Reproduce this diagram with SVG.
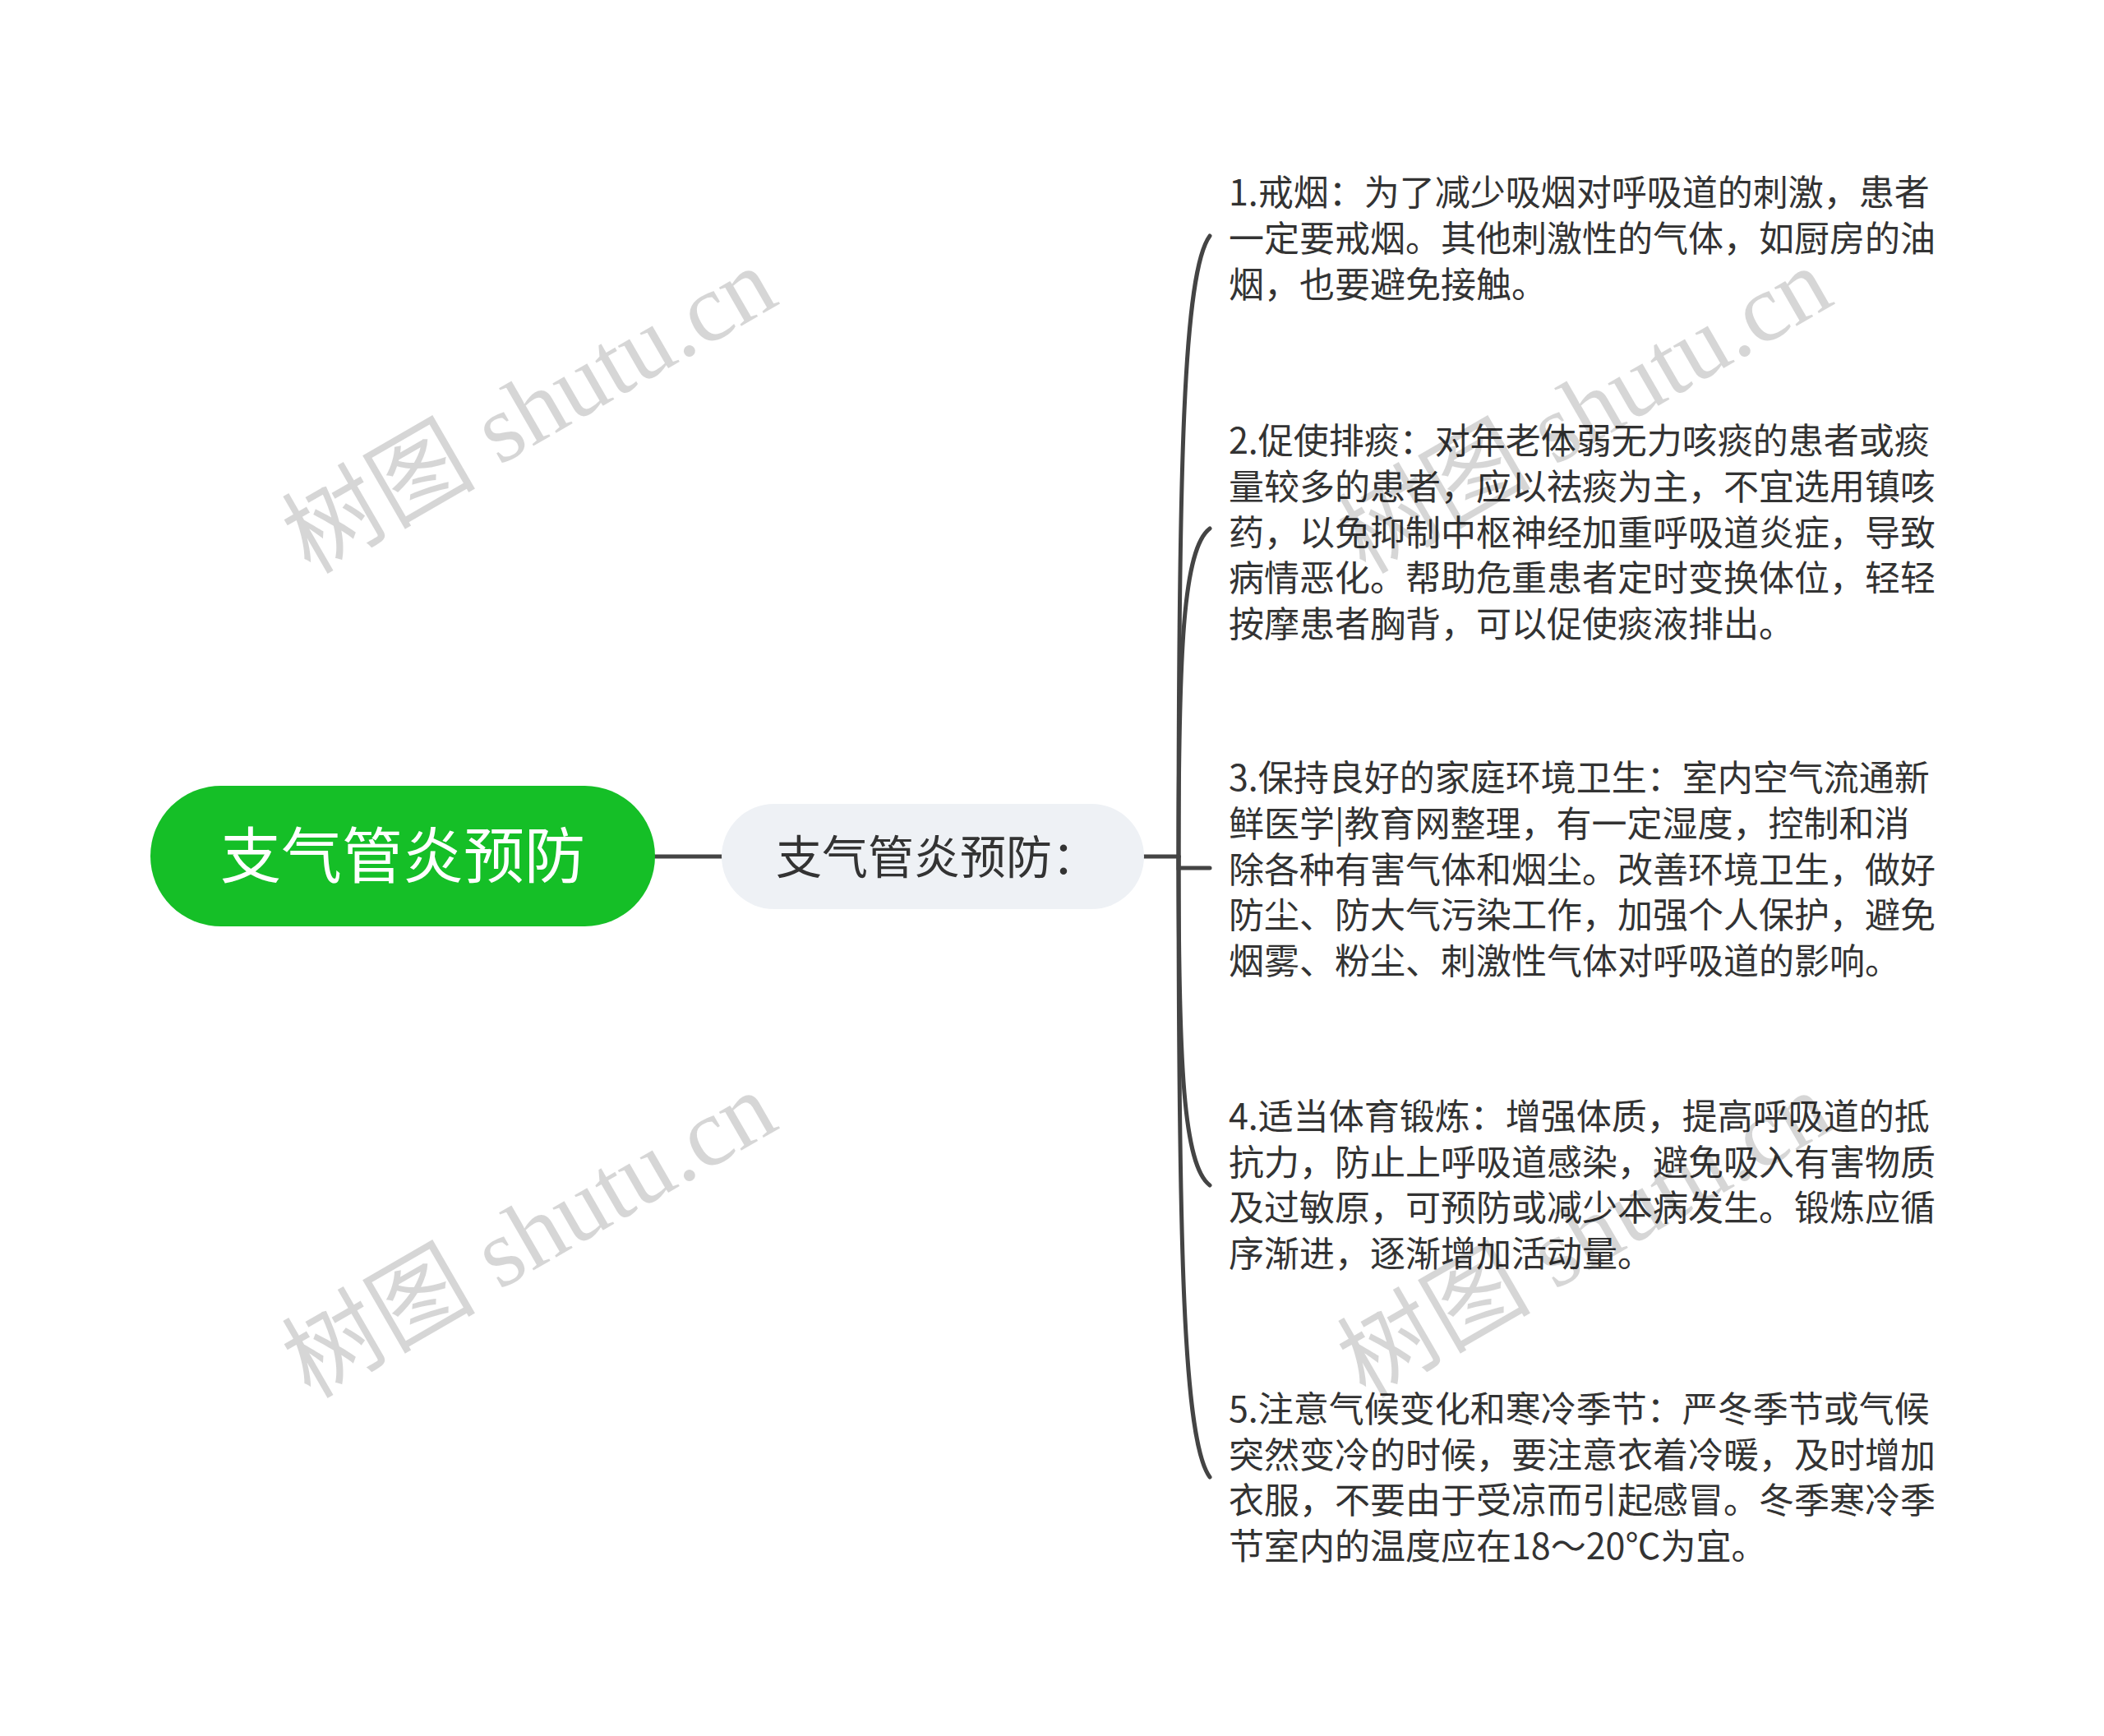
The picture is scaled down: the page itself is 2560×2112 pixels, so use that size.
<svg xmlns="http://www.w3.org/2000/svg" width="2560" height="2112" viewBox="0 0 2560 2112">
<style>
.leaf{font-family:"Noto Sans CJK SC","Noto Sans",sans-serif;font-size:43px;fill:#333333}
.conn{fill:none;stroke:#444444;stroke-width:5;stroke-linecap:round}
.wm{font-family:"Liberation Serif","Noto Sans CJK SC",serif;font-size:118px;fill:#000000;fill-opacity:0.16}
</style>
<rect width="2560" height="2112" fill="#ffffff"/>
<g id="connectors">
<path class="conn" d="M797,1042 H878" stroke-width="6"/>
<path class="conn" d="M1392,1042 H1434" stroke-width="6"/>
<path class="conn" d="M1434,1042 C1434,560 1440,330 1472,287"/>
<path class="conn" d="M1434,1042 C1434,787 1440,667 1472,643"/>
<path class="conn" d="M1434,1042 V1056 H1472"/>
<path class="conn" d="M1434,1042 C1434,1298 1440,1418 1472,1442"/>
<path class="conn" d="M1434,1042 C1434,1524 1440,1754 1472,1797"/>
</g>
<g id="root">
<rect x="183" y="956" width="614" height="171" rx="85.5" fill="#15bf27"/>
<text x="490" y="1068" text-anchor="middle" font-family="Noto Sans CJK SC, sans-serif" font-size="74" fill="#ffffff">支气管炎预防</text>
</g>
<g id="sub">
<rect x="878" y="978" width="514" height="128" rx="64" fill="#eef1f5"/>
<text x="944" y="1063" font-family="Noto Sans CJK SC, sans-serif" font-size="56" fill="#333333">支气管炎预防：</text>
</g>
<g id="leaf1">
<text class="leaf" x="1495" y="250"><tspan x="1495">1.戒烟：为了减少吸烟对呼吸道的刺激，患者</tspan><tspan x="1495" dy="56">一定要戒烟。其他刺激性的气体，如厨房的油</tspan><tspan x="1495" dy="56">烟，也要避免接触。</tspan></text>
</g>
<g id="leaf2">
<text class="leaf" x="1495" y="552"><tspan x="1495">2.促使排痰：对年老体弱无力咳痰的患者或痰</tspan><tspan x="1495" dy="55.8">量较多的患者，应以祛痰为主，不宜选用镇咳</tspan><tspan x="1495" dy="55.8">药，以免抑制中枢神经加重呼吸道炎症，导致</tspan><tspan x="1495" dy="55.8">病情恶化。帮助危重患者定时变换体位，轻轻</tspan><tspan x="1495" dy="55.8">按摩患者胸背，可以促使痰液排出。</tspan></text>
</g>
<g id="leaf3">
<text class="leaf" x="1495" y="962"><tspan x="1495">3.保持良好的家庭环境卫生：室内空气流通新</tspan><tspan x="1495" dy="55.8">鲜医学|教育网整理，有一定湿度，控制和消</tspan><tspan x="1495" dy="55.8">除各种有害气体和烟尘。改善环境卫生，做好</tspan><tspan x="1495" dy="55.8">防尘、防大气污染工作，加强个人保护，避免</tspan><tspan x="1495" dy="55.8">烟雾、粉尘、刺激性气体对呼吸道的影响。</tspan></text>
</g>
<g id="leaf4">
<text class="leaf" x="1495" y="1374"><tspan x="1495">4.适当体育锻炼：增强体质，提高呼吸道的抵</tspan><tspan x="1495" dy="55.6">抗力，防止上呼吸道感染，避免吸入有害物质</tspan><tspan x="1495" dy="55.6">及过敏原，可预防或减少本病发生。锻炼应循</tspan><tspan x="1495" dy="55.6">序渐进，逐渐增加活动量。</tspan></text>
</g>
<g id="leaf5">
<text class="leaf" x="1495" y="1730"><tspan x="1495">5.注意气候变化和寒冷季节：严冬季节或气候</tspan><tspan x="1495" dy="55.6">突然变冷的时候，要注意衣着冷暖，及时增加</tspan><tspan x="1495" dy="55.6">衣服，不要由于受凉而引起感冒。冬季寒冷季</tspan><tspan x="1495" dy="55.6">节室内的温度应在18～20℃为宜。</tspan></text>
</g>
<g id="watermarks">
<text class="wm" text-anchor="middle" transform="translate(664,534) rotate(-30)">树图 shutu.cn</text>
<text class="wm" text-anchor="middle" transform="translate(1948,534) rotate(-30)">树图 shutu.cn</text>
<text class="wm" text-anchor="middle" transform="translate(664,1537) rotate(-30)">树图 shutu.cn</text>
<text class="wm" text-anchor="middle" transform="translate(1948,1537) rotate(-30)">树图 shutu.cn</text>
</g>
</svg>
